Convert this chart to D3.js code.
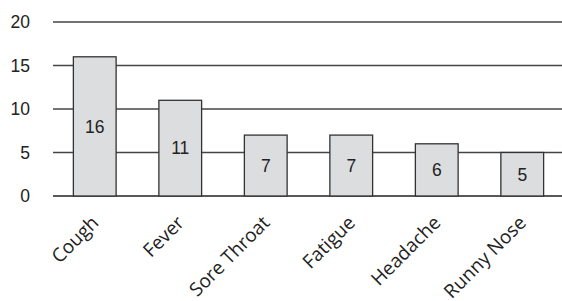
<!DOCTYPE html>
<html>
<head>
<meta charset="utf-8">
<script src="https://cdn.jsdelivr.net/npm/d3@7"></script>
<style>
  body { margin: 0; background: #fff; }
  svg { display: block; }
</style>
</head>
<body>
<div id="chart"></div>
<script>
// symptom categories and counts
const categories = ["Cough", "Fever", "Sore Throat", "Fatigue", "Headache", "Runny Nose"];
const counts = [16, 11, 7, 7, 6, 5];
const yTicks = [0, 5, 10, 15, 20];

const width = 562;
const height = 301;

const svg = d3.select("#chart")
  .append("svg")
    .attr("width", width)
    .attr("height", height);

const x = d3.scaleBand()
  .domain(categories)
  .range([52, 565])
  .paddingInner(0.5)
  .paddingOuter(0.25);

const y = d3.scaleLinear()
  .domain([0, 20])
  .range([196, 22]);

/* gridlines */
svg.append("g")
  .selectAll("line")
  .data(yTicks)
  .join("line")
    .attr("x1", 53)
    .attr("x2", width)
    .attr("y1", d => y(d))
    .attr("y2", d => y(d))
    .attr("stroke", d => d === 0 ? "#222" : "#444")
    .attr("stroke-width", d => d === 0 ? 1.6 : 1.3);

/* y tick labels */
svg.append("g")
  .selectAll("text")
  .data(yTicks)
  .join("text")
    .attr("x", 30)
    .attr("y", d => y(d))
    .attr("dy", "0.36em")
    .attr("text-anchor", "end")
    .attr("font-family", "Liberation Sans, Arial, sans-serif")
    .attr("font-size", 17.5)
    .attr("fill", "#222")
    .text(d => d);

/* bars */
const bars = svg.append("g")
  .selectAll("g")
  .data(categories)
  .join("g");

bars.append("rect")
  .attr("x", d => x(d))
  .attr("width", x.bandwidth())
  .attr("y", (d, i) => y(counts[i]))
  .attr("height", (d, i) => y(0) - y(counts[i]))
  .attr("fill", "#dcdddf")
  .attr("stroke", "#333")
  .attr("stroke-width", 1.3);

bars.append("text")
  .attr("x", d => x(d) + x.bandwidth() / 2)
  .attr("y", (d, i) => (y(counts[i]) + y(0)) / 2)
  .attr("dy", "0.36em")
  .attr("text-anchor", "middle")
  .attr("font-family", "Liberation Sans, Arial, sans-serif")
  .attr("font-size", 17.5)
  .attr("fill", "#222")
  .text((d, i) => counts[i]);

/* rotated category labels */
svg.append("g")
  .selectAll("text")
  .data(categories)
  .join("text")
    .attr("transform", d => "translate(" + (x(d) + x.bandwidth() / 2 + 5) + "," + 224 + ") rotate(-45)")
    .attr("text-anchor", "end")
    .attr("font-family", "Open Sans, sans-serif")
    .attr("font-size", 19)
    .attr("fill", "#222")
    .text(d => d);
</script>
</body>
</html>
